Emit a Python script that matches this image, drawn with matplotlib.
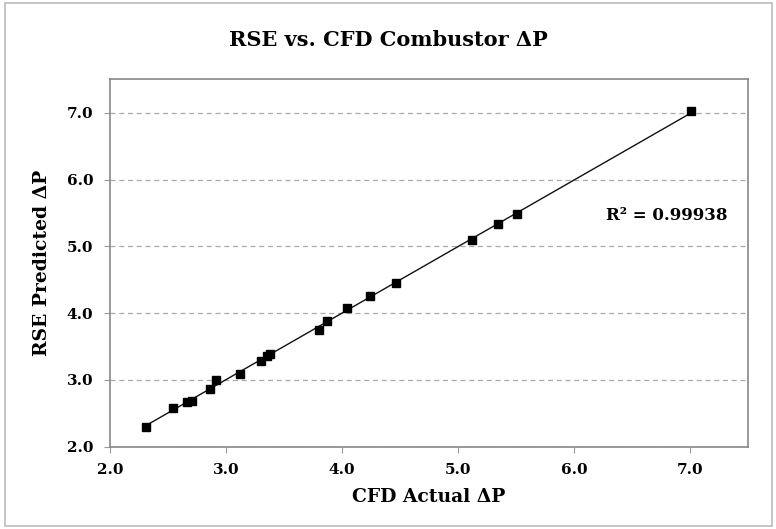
import numpy as np
import matplotlib.pyplot as plt
from matplotlib.patches import Rectangle

# valores
cfd_actual = [2.31, 2.54, 2.66, 2.71, 2.86, 2.91, 3.12, 3.30, 3.35, 3.38,
              3.80, 3.87, 4.04, 4.24, 4.46, 5.12, 5.34, 5.51, 7.01]
rse_predicted = [2.29, 2.58, 2.67, 2.68, 2.87, 3.00, 3.09, 3.29, 3.36, 3.39,
                 3.74, 3.88, 4.07, 4.25, 4.45, 5.10, 5.34, 5.49, 7.02]
x_ticks = [2.0, 3.0, 4.0, 5.0, 6.0, 7.0]
y_ticks = [2.0, 3.0, 4.0, 5.0, 6.0, 7.0]
r2_text = "R² = 0.99938"

plt.rcParams['font.family'] = ['DejaVu Serif']

fig = plt.figure(figsize=(7.76, 5.29), dpi=100)
ax = fig.add_axes([0.1418, 0.1556, 0.8225, 0.6944])

# linea de tendencia lineal
x = np.array(cfd_actual)
y = np.array(rse_predicted)
m, b = np.polyfit(x, y, 1)
xl = np.array([x.min(), x.max()])
ax.plot(xl, m * xl + b, color='#111111', lw=1.0, zorder=2)

ax.plot(x, y, linestyle='none', marker='s', markersize=6,
        color='black', zorder=3)

ax.set_xlim(2.0, 7.5)
ax.set_ylim(2.0, 7.5)
ax.set_xticks(x_ticks)
ax.set_yticks(y_ticks)
ax.set_xticklabels([f"{v:.1f}" for v in x_ticks], fontsize=11, fontweight='bold')
ax.set_yticklabels([f"{v:.1f}" for v in y_ticks], fontsize=11, fontweight='bold')
ax.tick_params(direction='out', length=4, color='#999999', pad=8)

for s in ax.spines.values():
    s.set_color('#888888')
    s.set_linewidth(1.2)

ax.yaxis.grid(True, linestyle=(0, (4, 3)), color='#aaaaaa', lw=0.9)
ax.set_axisbelow(True)

ax.text(6.27, 5.46, r2_text, fontsize=12, fontweight='bold', va='center', ha='left')

fig.text(0.50, 0.924, "RSE vs. CFD Combustor ΔP", ha='center', va='center',
         fontsize=15, fontweight='bold')
ax.set_xlabel("CFD Actual ΔP", fontsize=13.5, fontweight='bold', labelpad=8)
ax.set_ylabel("RSE Predicted ΔP", fontsize=13.5, fontweight='bold', labelpad=11)

# marco exterior
fig.patches.append(Rectangle((0.007, 0.006), 0.988, 0.988, transform=fig.transFigure,
                             fill=False, edgecolor='#bbbbbb', lw=1.2))

fig.savefig('out.png', dpi=100)
